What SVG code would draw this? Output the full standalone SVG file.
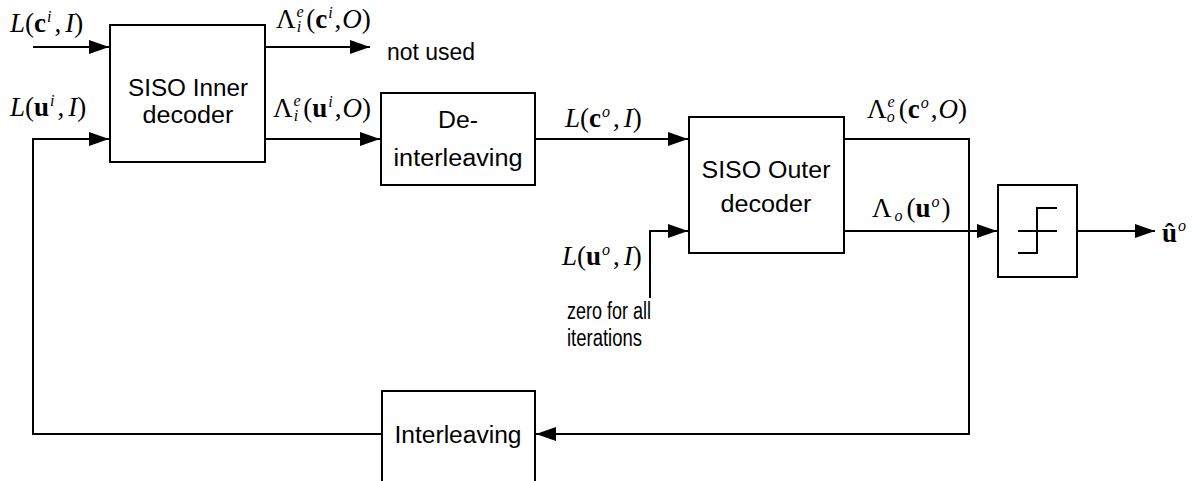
<svg xmlns="http://www.w3.org/2000/svg" width="1203" height="481" viewBox="0 0 1203 481">
<style>
.box{fill:#fff;stroke:#000;stroke-width:2}
.ln{fill:none;stroke:#000;stroke-width:2}
.t{font-family:"Liberation Sans",Arial,sans-serif;font-size:23px;fill:#000}
.m{font-family:"Liberation Serif","Times New Roman",serif;font-size:27px;fill:#000}
.i{font-style:italic}
.b{font-weight:bold}
.s{font-size:16px}
</style>
<defs>
<marker id="ah" viewBox="0 0 20 14" refX="20" refY="7" markerWidth="20" markerHeight="14" orient="auto" markerUnits="userSpaceOnUse">
<path d="M0,0 L20,7 L0,14 z" fill="#000"/>
</marker>
</defs>
<rect width="1203" height="481" fill="#fff"/>
<g id="connectors">
<path class="ln" d="M33,47 H109" marker-end="url(#ah)"/>
<path class="ln" d="M382,434 H33 V139 H109" marker-end="url(#ah)"/>
<path class="ln" d="M265,47 H370" marker-end="url(#ah)"/>
<path class="ln" d="M265,139 H380" marker-end="url(#ah)"/>
<path class="ln" d="M535,139 H688" marker-end="url(#ah)"/>
<path class="ln" d="M650,298 V231 H688" marker-end="url(#ah)"/>
<path class="ln" d="M844,139 H969 V434 H536" marker-end="url(#ah)"/>
<path class="ln" d="M844,231 H997" marker-end="url(#ah)"/>
<path class="ln" d="M1077,231 H1155" marker-end="url(#ah)"/>
</g>
<g id="inner-decoder">
<rect class="box" x="110" y="25" width="155" height="137"/>
<text class="t" x="188" y="96" text-anchor="middle" textLength="120" lengthAdjust="spacingAndGlyphs">SISO Inner</text>
<text class="t" x="188" y="123" text-anchor="middle" textLength="91" lengthAdjust="spacingAndGlyphs">decoder</text>
</g>
<g id="deinterleaving">
<rect class="box" x="381" y="93" width="154" height="92"/>
<text class="t" x="458" y="128" text-anchor="middle" textLength="40" lengthAdjust="spacingAndGlyphs">De-</text>
<text class="t" x="458" y="166" text-anchor="middle" textLength="129" lengthAdjust="spacingAndGlyphs">interleaving</text>
</g>
<g id="outer-decoder">
<rect class="box" x="689" y="117" width="155" height="136"/>
<text class="t" x="766" y="178" text-anchor="middle" textLength="129" lengthAdjust="spacingAndGlyphs">SISO Outer</text>
<text class="t" x="766" y="212" text-anchor="middle" textLength="91" lengthAdjust="spacingAndGlyphs">decoder</text>
</g>
<g id="interleaving">
<path class="box" d="M382,481 V391 H535 V481"/>
<text class="t" x="458" y="443" text-anchor="middle" textLength="127" lengthAdjust="spacingAndGlyphs">Interleaving</text>
</g>
<g id="hard-decision">
<rect class="box" x="998" y="185" width="79" height="92"/>
<path class="ln" d="M1018,231 H1057 M1018,253 H1037 V208 H1057"/>
</g>
<g id="labels">
<text class="m" x="10" y="32"><tspan class="i">L</tspan>(<tspan class="b">c</tspan><tspan class="s i" dx="1" dy="-10">i</tspan><tspan dx="3" dy="10">,</tspan><tspan class="i" dx="4">I</tspan>)</text>
<text class="m" x="10" y="116"><tspan class="i">L</tspan>(<tspan class="b">u</tspan><tspan class="s i" dx="1" dy="-10">i</tspan><tspan dx="3" dy="10">,</tspan><tspan class="i" dx="4">I</tspan>)</text>
<text class="m" x="276" y="28">Λ<tspan class="s i" dx="1" dy="-11">e</tspan><tspan class="s i" dx="-7" dy="15">i</tspan><tspan dx="5" dy="-4">(</tspan><tspan class="b">c</tspan><tspan class="s i" dx="1" dy="-10">i</tspan><tspan dx="2" dy="10">,</tspan><tspan class="i" dx="1">O</tspan>)</text>
<text class="t" x="387" y="60" textLength="88" lengthAdjust="spacingAndGlyphs">not used</text>
<text class="m" x="273" y="117">Λ<tspan class="s i" dx="1" dy="-11">e</tspan><tspan class="s i" dx="-7" dy="15">i</tspan><tspan dx="5" dy="-4">(</tspan><tspan class="b">u</tspan><tspan class="s i" dx="1" dy="-10">i</tspan><tspan dx="2" dy="10">,</tspan><tspan class="i" dx="1">O</tspan>)</text>
<text class="m" x="565" y="127"><tspan class="i">L</tspan>(<tspan class="b">c</tspan><tspan class="s i" dx="1" dy="-10">o</tspan><tspan dx="3" dy="10">,</tspan><tspan class="i" dx="4">I</tspan>)</text>
<text class="m" x="867" y="118">Λ<tspan class="s i" dx="1" dy="-11">e</tspan><tspan class="s i" dx="-8" dy="15">o</tspan><tspan dx="4" dy="-4">(</tspan><tspan class="b">c</tspan><tspan class="s i" dx="1" dy="-10">o</tspan><tspan dx="2" dy="10">,</tspan><tspan class="i" dx="1">O</tspan>)</text>
<text class="m" x="872" y="217">Λ<tspan class="s i" dx="3" dy="4">o</tspan><tspan dx="4" dy="-4">(</tspan><tspan class="b">u</tspan><tspan class="s i" dx="1" dy="-10">o</tspan><tspan dx="2" dy="10">)</tspan></text>
<text class="m" x="562" y="265"><tspan class="i">L</tspan>(<tspan class="b">u</tspan><tspan class="s i" dx="1" dy="-10">o</tspan><tspan dx="3" dy="10">,</tspan><tspan class="i" dx="4">I</tspan>)</text>
<text class="t" x="567" y="319" textLength="84" lengthAdjust="spacingAndGlyphs">zero for all</text>
<text class="t" x="567" y="346" textLength="75" lengthAdjust="spacingAndGlyphs">iterations</text>
<text class="m" x="1162" y="242"><tspan class="b">û</tspan><tspan class="s i" dx="1" dy="-11">o</tspan></text>
</g>
</svg>
